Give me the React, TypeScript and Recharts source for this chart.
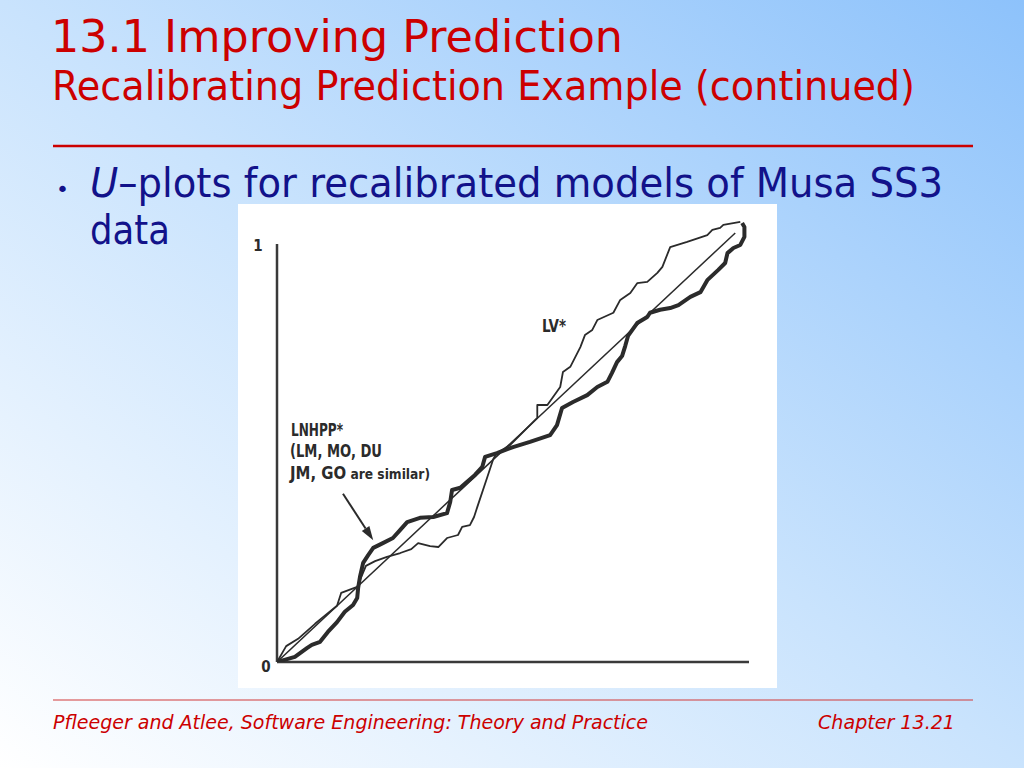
import React from "react";
import { ComposedChart, Line, XAxis, YAxis, ReferenceLine } from "recharts";

// u-plot data (u on x, cumulative proportion on y)
const diagonalU = [0, 1];
const diagonalV = [0, 1];

const lnhppU = [
  0, 0.039, 0.066, 0.076, 0.094, 0.111, 0.131, 0.148, 0.166, 0.175, 0.177, 0.181,
  0.188, 0.199, 0.21, 0.231, 0.253, 0.269, 0.284, 0.312, 0.341, 0.371, 0.378, 0.382,
  0.4, 0.415, 0.432, 0.448, 0.454, 0.48, 0.515, 0.552, 0.596, 0.611, 0.622, 0.646,
  0.677, 0.699, 0.721, 0.731, 0.742, 0.753, 0.76, 0.766, 0.786, 0.808, 0.814, 0.836,
  0.858, 0.876, 0.902, 0.924, 0.939, 0.956, 0.963, 0.978, 0.983, 0.996, 1.011, 1.02,
  1.02, 1.015,
];
const lnhppV = [
  0, 0.012, 0.033, 0.04, 0.047, 0.07, 0.093, 0.117, 0.133, 0.149, 0.172, 0.198,
  0.231, 0.249, 0.266, 0.277, 0.289, 0.308, 0.326, 0.336, 0.338, 0.347, 0.373, 0.401,
  0.406, 0.42, 0.436, 0.455, 0.478, 0.487, 0.501, 0.513, 0.529, 0.552, 0.592, 0.606,
  0.622, 0.641, 0.653, 0.674, 0.699, 0.713, 0.737, 0.76, 0.79, 0.804, 0.814, 0.821,
  0.825, 0.832, 0.851, 0.862, 0.89, 0.907, 0.914, 0.93, 0.953, 0.965, 0.972, 0.991,
  1.014, 1.023,
];

const lvU = [
  0, 0.02, 0.046, 0.083, 0.111, 0.131, 0.14, 0.175, 0.194, 0.214, 0.24, 0.269,
  0.293, 0.308, 0.334, 0.352, 0.371, 0.395, 0.404, 0.421, 0.43, 0.437, 0.459, 0.472,
  0.48, 0.509, 0.568, 0.568, 0.59, 0.618, 0.624, 0.64, 0.662, 0.672, 0.688, 0.699,
  0.734, 0.749, 0.771, 0.786, 0.808, 0.83, 0.841, 0.858, 0.895, 0.939, 0.95, 0.967,
  0.974, 1.011,
];
const lvV = [
  0, 0.037, 0.054, 0.089, 0.114, 0.131, 0.161, 0.175, 0.224, 0.235, 0.245, 0.254,
  0.263, 0.277, 0.27, 0.268, 0.289, 0.296, 0.315, 0.319, 0.338, 0.361, 0.431, 0.473,
  0.487, 0.506, 0.569, 0.599, 0.599, 0.641, 0.676, 0.688, 0.734, 0.762, 0.774, 0.797,
  0.814, 0.844, 0.86, 0.883, 0.886, 0.907, 0.921, 0.967, 0.979, 0.995, 1.007, 1.012,
  1.019, 1.026,
];

const yTicks = [0, 1];

const title = "13.1 Improving Prediction";
const subtitle = "Recalibrating Prediction Example (continued)";
const bulletItalic = "U";
const bulletRest = "\u2013plots for recalibrated models of Musa SS3";
const bulletLine2 = "data";
const footerLeft = "Pfleeger and Atlee, Software Engineering: Theory and Practice";
const footerRight = "Chapter 13.21";

const lvLabel = "LV*";
const lnhppLabel = ["LNHPP*", "(LM, MO, DU"];
const lnhppLabelLast = "JM, GO";
const lnhppLabelSmall = "are similar)";

const RED = "#cc0000";
const BLUE = "#12128a";
const INK = "#2b2b2b";
const NARROW = "'Liberation Sans Narrow', 'DejaVu Sans Condensed', sans-serif";

const toPoints = (u: number[], v: number[]) => u.map((x, i) => ({ u: x, v: v[i] }));

const diagonal = toPoints(diagonalU, diagonalV);
const lnhpp = toPoints(lnhppU, lnhppV);
const lv = toPoints(lvU, lvV);

const UTick = (props: any) => {
  const { y, payload } = props;
  const top = payload.value === 1;
  return (
    <text
      x={top ? 20 : 28}
      y={y + (top ? 13 : 5)}
      textAnchor="middle"
      dominantBaseline="central"
      fontFamily={NARROW}
      fontWeight="bold"
      fontSize={15}
      fill={INK}
    >
      {payload.value}
    </text>
  );
};

const Arrow = (props: any) => {
  const { x1, y1, x2, y2 } = props;
  const a = Math.atan2(y2 - y1, x2 - x1);
  const len = 14;
  const w = 4.5;
  const bx = x2 - len * Math.cos(a);
  const by = y2 - len * Math.sin(a);
  const px = w * Math.sin(a);
  const py = w * Math.cos(a);
  return (
    <g>
      <line x1={x1} y1={y1} x2={bx} y2={by} stroke={INK} strokeWidth={2} />
      <polygon points={`${x2},${y2} ${bx + px},${by - py} ${bx - px},${by + py}`} fill={INK} />
    </g>
  );
};

function UPlot() {
  return (
    <ComposedChart width={539} height={484} margin={{ top: 7.5, right: 28, bottom: 26, left: 0 }}>
      <XAxis dataKey="u" type="number" domain={[0, 1.03]} hide allowDataOverflow />
      <YAxis
        type="number"
        domain={[0, 1.05]}
        ticks={yTicks}
        width={39}
        axisLine={false}
        tickLine={false}
        tick={<UTick />}
        allowDataOverflow
      />
      <ReferenceLine segment={[{ x: 0, y: 0 }, { x: 0, y: 0.974 }]} stroke="#3a3a3a" strokeWidth={2.5} />
      <ReferenceLine segment={[{ x: 0, y: 0 }, { x: 1.03, y: 0 }]} stroke="#3a3a3a" strokeWidth={2.5} />
      <ReferenceLine segment={[{ x: 0.144, y: 0.392 }, { x: 0.21, y: 0.284 }]} shape={<Arrow />} />
      <Line data={diagonal} dataKey="v" type="linear" stroke={INK} strokeWidth={1.5} dot={false} isAnimationActive={false} />
      <Line data={lv} dataKey="v" type="linear" stroke={INK} strokeWidth={1.8} strokeLinejoin="round" dot={false} isAnimationActive={false} />
      <Line data={lnhpp} dataKey="v" type="linear" stroke={INK} strokeWidth={4} strokeLinejoin="round" dot={false} isAnimationActive={false} />
    </ComposedChart>
  );
}

export default function App() {
  return (
    <div style={{ position: "absolute", left: 0, top: 0, width: 1024, height: 768, overflow: "hidden" }}>
      <svg width={1024} height={768} style={{ position: "absolute", left: 0, top: 0 }}>
        <defs>
          <linearGradient id="bg" x1="0" y1="1" x2="1" y2="0">
            <stop offset="0" stopColor="#ffffff" />
            <stop offset="0.5" stopColor="#c9e3fd" />
            <stop offset="1" stopColor="#8dc2fb" />
          </linearGradient>
        </defs>
        <rect x={0} y={0} width={1024} height={768} fill="url(#bg)" />
        <g fontFamily="'DejaVu Sans', sans-serif">
          <text x={51} y={52} fontSize={45} fill={RED} textLength={572} lengthAdjust="spacingAndGlyphs">
            {title}
          </text>
          <text x={52} y={100} fontSize={40} fill={RED} textLength={863} lengthAdjust="spacingAndGlyphs">
            {subtitle}
          </text>
          <line x1={53} x2={973} y1={146} y2={146} stroke={RED} strokeWidth={2.5} />
          <text x={56} y={197} fontSize={22} fill={BLUE}>
            {"\u2022"}
          </text>
          <text x={90} y={197} fontSize={40} fill={BLUE} textLength={853} lengthAdjust="spacingAndGlyphs">
            <tspan fontStyle="italic">{bulletItalic}</tspan>
            {bulletRest}
          </text>
          <text x={90} y={244} fontSize={40} fill={BLUE} textLength={80} lengthAdjust="spacingAndGlyphs">
            {bulletLine2}
          </text>
          <line x1={53} x2={973} y1={700} y2={700} stroke="#d23a3a" strokeWidth={1.2} />
          <text
            x={53}
            y={729}
            fontSize={20}
            fontStyle="italic"
            fill={RED}
            fontFamily="'DejaVu Sans Condensed', sans-serif"
            textLength={595}
            lengthAdjust="spacingAndGlyphs"
          >
            {footerLeft}
          </text>
          <text
            x={818}
            y={729}
            fontSize={20}
            fontStyle="italic"
            fill={RED}
            fontFamily="'DejaVu Sans Condensed', sans-serif"
            textLength={137}
            lengthAdjust="spacingAndGlyphs"
          >
            {footerRight}
          </text>
        </g>
      </svg>
      <div style={{ position: "absolute", left: 238, top: 204, width: 539, height: 484, background: "#ffffff" }}>
        <UPlot />
      </div>
      <svg width={1024} height={768} style={{ position: "absolute", left: 0, top: 0, pointerEvents: "none" }}>
        <g fontFamily={NARROW} fontWeight="bold" fontSize={17} fill={INK}>
          <text x={542} y={332} textLength={24} lengthAdjust="spacingAndGlyphs">
            {lvLabel}
          </text>
          <text x={291} y={436} textLength={52} lengthAdjust="spacingAndGlyphs">
            {lnhppLabel[0]}
          </text>
          <text x={290} y={457} textLength={92} lengthAdjust="spacingAndGlyphs">
            {lnhppLabel[1]}
          </text>
          <text x={290} y={479} textLength={140} lengthAdjust="spacingAndGlyphs">
            {lnhppLabelLast}
            <tspan fontSize={14}>{" " + lnhppLabelSmall}</tspan>
          </text>
        </g>
      </svg>
    </div>
  );
}
